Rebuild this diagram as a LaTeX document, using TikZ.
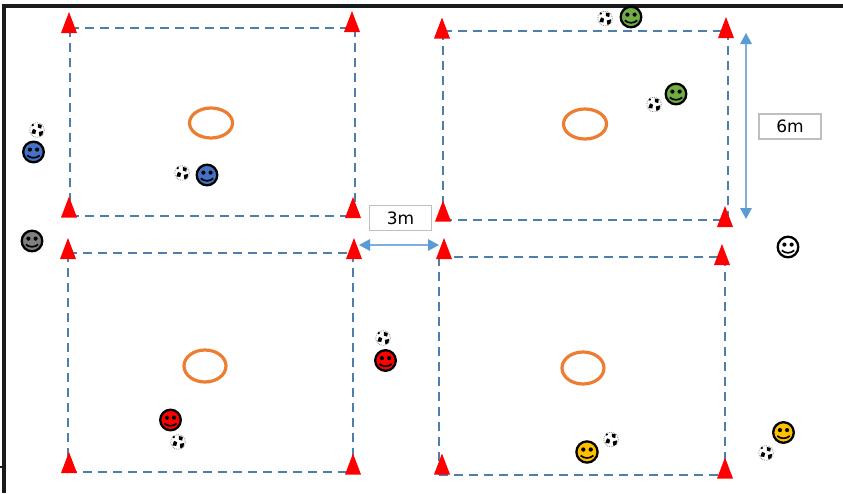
\documentclass[tikz,border=0pt]{standalone}
\usepackage{fontspec}
\setmainfont{DejaVu Sans}
\usetikzlibrary{arrows.meta}
\definecolor{dashblue}{HTML}{4F7FA8}
\definecolor{arrowblue}{HTML}{5B9BD5}
\definecolor{hoop}{HTML}{ED7D31}
\definecolor{facegreen}{HTML}{70AD47}
\definecolor{faceblue}{HTML}{4472C4}
\definecolor{facegray}{HTML}{7F7F7F}
\definecolor{faceyellow}{HTML}{FFC000}
\definecolor{frame}{HTML}{1A1A1A}
\tikzset{
  x=1pt,y=-1pt,
  fieldline/.style={draw=dashblue,line width=2.7pt,dash pattern=on 9pt off 6pt},
  ring/.style={draw=hoop,line width=3.2pt,fill=none},
  dim/.style={draw=arrowblue!80,line width=1.4pt,{Triangle[length=11pt,width=11.5pt,color=arrowblue]}-{Triangle[length=11pt,width=11.5pt,color=arrowblue]}},
  dimbox/.style={draw=black!25,line width=1.6pt,fill=white,minimum width=62pt,minimum height=25pt,inner sep=0pt,font=\fontsize{17}{17}\selectfont},
  cone/.pic={\fill[red] (0,-10.5) -- (-8,10.5) -- (8,10.5) -- cycle;},
  smiley/.pic={
    \path[draw=black,line width=2.3pt,pic actions] (0,0) circle[radius=10.3];
    \fill[black] (-3.6,-2.4) circle[radius=2.1] (3.6,-2.4) circle[radius=2.1];
    \draw[black,line width=1.7pt] (-6.2,3.4) .. controls (-3,6.6) and (3,6.6) .. (6.2,3.4);
  },
  ball/.pic={
    \draw[black!45,densely dotted,line width=.8pt,fill=white] (0,0) circle[radius=7.3];
    \fill[black] (-4,-1.2) -- (-.8,.2) -- (-1.8,4) -- (-5.6,3.4) -- cycle;
    \fill[black] (.8,-6) -- (4.8,-5) -- (4.2,-1.4) -- (.8,-2.4) -- cycle;
    \fill[black] (1.8,2) -- (6.2,.8) -- (5.4,5) -- (2.4,6.4) -- cycle;
    \fill[black] (-4.2,-5) circle[radius=1.3];
  },
}
\begin{document}
\begin{tikzpicture}
\useasboundingbox (0,0) rectangle (843,493);
\fill[white] (0,0) rectangle (843,493);
% frame
\fill[frame] (2,4) rectangle (843,7.5);
\fill[frame] (2,4) rectangle (6,493);
\fill[frame] (0,465.5) rectangle (6,467.5);
% field corners
\coordinate (a1) at (70,28);  \coordinate (a2) at (355,28);  \coordinate (a3) at (355,216); \coordinate (a4) at (70,216);
\coordinate (b1) at (68,253); \coordinate (b2) at (353,253); \coordinate (b3) at (353,472); \coordinate (b4) at (68,472);
\coordinate (c1) at (443,31); \coordinate (c2) at (728,31);  \coordinate (c3) at (728,220); \coordinate (c4) at (443,220);
\coordinate (d1) at (439,257);\coordinate (d2) at (725,257); \coordinate (d3) at (725,475); \coordinate (d4) at (439,475);
\foreach \f in {a,b,c,d}{
  \draw[fieldline] (\f1) -- (\f2);
  \draw[fieldline] (\f1) -- (\f4);
  \draw[fieldline] (\f2) -- (\f3);
  \draw[fieldline] (\f4) -- (\f3);
}
% cones
\foreach \x/\y in {69/22.5,352/21.5,69/207,353/207.5,68/248.5,354/248.5,69/462.5,353/464,
                   442/28,726/27.5,443/211,725/216.5,444/248.5,722/254.5,442/464,725/468}{
  \pic at (\x,\y) {cone};
}
% hoops
\draw[ring] (211,123) ellipse[x radius=21.5,y radius=15];
\draw[ring] (585,124) ellipse[x radius=21.5,y radius=15];
\draw[ring] (205,366) ellipse[x radius=21,y radius=16];
\draw[ring] (583,368) ellipse[x radius=21,y radius=16];
% players
\pic[fill=faceblue] at (33.5,152) {smiley};
\pic[fill=faceblue] at (207,175) {smiley};
\pic[fill=facegray] at (32,241) {smiley};
\pic[fill=facegreen] at (631,17) {smiley};
\pic[fill=facegreen] at (676,94) {smiley};
\pic[fill=white] at (788,247) {smiley};
\pic[fill=red] at (385.5,360.5) {smiley};
\pic[fill=red] at (170.5,420) {smiley};
\pic[fill=faceyellow,scale=1.03] at (587,452) {smiley};
\pic[fill=faceyellow] at (783.5,432.5) {smiley};
% balls
\foreach \x/\y in {37/130,182/173,605/18.5,654/104.5,383/338,178/442,611/439.5,766/453}{
  \pic at (\x,\y) {ball};
}
% dimensions
\node[dimbox] (six) at (790,126.5) {6m};
\node[dimbox] (three) at (400.5,218) {3m};
\coordinate (v1) at (746,33);  \coordinate (v2) at (746,219);
\coordinate (h1) at (359,245); \coordinate (h2) at (439,245);
\draw[dim] (v1) -- (v2);
\draw[dim] (h1) -- (h2);
\end{tikzpicture}
\end{document}
